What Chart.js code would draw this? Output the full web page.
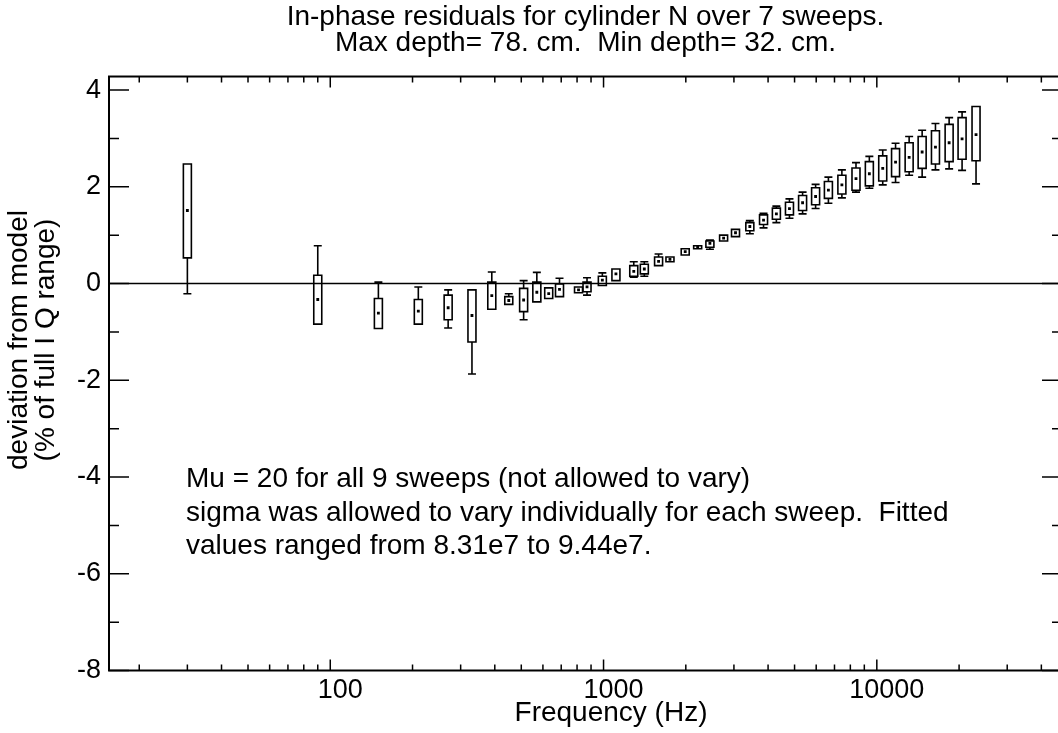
<!DOCTYPE html>
<html>
<head>
<meta charset="utf-8">
<title>In-phase residuals for cylinder N</title>
<script src="https://cdn.jsdelivr.net/npm/chart.js@4.4.1/dist/chart.umd.min.js"></script>
<style>
    html, body { margin: 0; padding: 0; background: #fff; overflow: hidden; }
    #wrap { position: relative; width: 1066px; height: 733px; }
</style>
</head>
<body>
<div id="wrap"><canvas id="residuals"></canvas></div>
<script>
// Sweep frequencies (Hz)
const freqs = [30, 90, 150, 210, 270, 330, 390, 450, 510, 570, 630, 690, 810, 870, 990,
    1110, 1290, 1410, 1590, 1750, 1990, 2210, 2450, 2750, 3040, 3430, 3850, 4290, 4790,
    5350, 5970, 6650, 7450, 8390, 9390, 10510, 11710, 13130, 14650, 16390, 18390, 20510, 23070];

// Residual statistics over the sweeps (% of full I Q range)
const whiskerLow = [-0.21, -0.84, -0.93, -0.84, -0.92, -1.87, -0.53, -0.43, -0.75, -0.38, -0.31, -0.27, -0.19, -0.24, -0.04,
    0.06, 0.13, 0.15, 0.37, 0.45, 0.59, 0.72, 0.71, 0.88, 0.97, 1.03, 1.15, 1.26, 1.35,
    1.44, 1.55, 1.66, 1.77, 1.89, 1.97, 2.04, 2.09, 2.24, 2.20, 2.35, 2.37, 2.34, 2.06];
const boxLow = [0.53, -0.84, -0.93, -0.84, -0.75, -1.21, -0.53, -0.43, -0.58, -0.38, -0.31, -0.27, -0.19, -0.17, -0.04,
    0.06, 0.15, 0.20, 0.37, 0.45, 0.59, 0.72, 0.75, 0.88, 0.97, 1.09, 1.22, 1.33, 1.42,
    1.51, 1.63, 1.76, 1.85, 1.93, 2.02, 2.12, 2.21, 2.31, 2.38, 2.47, 2.52, 2.57, 2.54];
const boxHigh = [2.47, 0.17, -0.31, -0.33, -0.24, -0.13, 0.03, -0.27, -0.10, 0.03, -0.09, -0.01, -0.07, 0.03, 0.15,
    0.30, 0.37, 0.40, 0.55, 0.55, 0.72, 0.78, 0.88, 1.00, 1.12, 1.26, 1.42, 1.56, 1.68,
    1.82, 1.98, 2.11, 2.24, 2.39, 2.52, 2.64, 2.79, 2.91, 3.04, 3.16, 3.29, 3.43, 3.66];
const whiskerHigh = [2.47, 0.78, 0.03, -0.07, -0.13, -0.13, 0.24, -0.21, 0.06, 0.23, -0.09, 0.11, -0.07, 0.12, 0.22,
    0.30, 0.45, 0.45, 0.61, 0.55, 0.72, 0.78, 0.90, 1.00, 1.12, 1.30, 1.45, 1.60, 1.75,
    1.89, 2.05, 2.20, 2.35, 2.50, 2.63, 2.76, 2.90, 3.04, 3.17, 3.31, 3.43, 3.55, 3.66];
const means = [1.51, -0.33, -0.61, -0.57, -0.50, -0.66, -0.25, -0.35, -0.34, -0.18, -0.21, -0.12, -0.13, -0.07, 0.07,
    0.20, 0.25, 0.30, 0.46, 0.50, 0.66, 0.75, 0.83, 0.94, 1.05, 1.18, 1.31, 1.44, 1.55,
    1.67, 1.80, 1.93, 2.04, 2.17, 2.27, 2.38, 2.51, 2.61, 2.72, 2.82, 2.91, 2.99, 3.08];

// Axis ranges and ticks
const xRange = [15.5, 47600];
const yRange = [-8, 4.28];
const xTicks = [20, 30, 40, 50, 60, 70, 80, 90, 100, 200, 300, 400, 500, 600, 700, 800, 900,
    1000, 2000, 3000, 4000, 5000, 6000, 7000, 8000, 9000, 10000, 20000, 30000, 40000];
const xLabelled = [100, 1000, 10000];
const yTicks = [-8, -7.5, -7, -6.5, -6, -5.5, -5, -4.5, -4, -3.5, -3, -2.5, -2, -1.5, -1, -0.5,
    0, 0.5, 1, 1.5, 2, 2.5, 3, 3.5, 4];
const yLabelled = [-8, -6, -4, -2, 0, 2, 4];

// Texts
const titleLines = ['In-phase residuals for cylinder N over 7 sweeps.', 'Max depth= 78. cm.  Min depth= 32. cm.'];
const xTitle = 'Frequency (Hz)';
const yTitleLines = ['deviation from model', '(% of full I Q range)'];
const noteLines = [
    'Mu = 20 for all 9 sweeps (not allowed to vary)',
    'sigma was allowed to vary individually for each sweep.  Fitted',
    'values ranged from 8.31e7 to 9.44e7.'
];

const FONT = "'Liberation Sans', Arial, Helvetica, sans-serif";
Chart.defaults.font.family = FONT;
Chart.defaults.color = '#000';

// Box and whisker marks, one per frequency
const boxPlot = {
    id: 'boxPlot',
    afterDatasetsDraw(chart) {
        const { ctx, scales: { x, y } } = chart;
        const half = 4;
        ctx.save();
        ctx.strokeStyle = '#000';
        ctx.lineWidth = 1.6;
        freqs.forEach((f, i) => {
            const px = x.getPixelForValue(f);
            const wl = y.getPixelForValue(whiskerLow[i]);
            const bl = y.getPixelForValue(boxLow[i]);
            const bh = y.getPixelForValue(boxHigh[i]);
            const wh = y.getPixelForValue(whiskerHigh[i]);
            ctx.beginPath();
            ctx.rect(px - half, bh, half * 2, bl - bh);
            ctx.moveTo(px, bh); ctx.lineTo(px, wh);
            ctx.moveTo(px - half, wh); ctx.lineTo(px + half, wh);
            ctx.moveTo(px, bl); ctx.lineTo(px, wl);
            ctx.moveTo(px - half, wl); ctx.lineTo(px + half, wl);
            ctx.stroke();
        });
        ctx.restore();
    }
};

// Plot frame with inward ticks on all four sides, plus axis titles and notes
const frame = {
    id: 'frame',
    afterDraw(chart) {
        const { ctx, chartArea: { left, right, top, bottom }, scales: { x, y } } = chart;
        ctx.save();
        ctx.strokeStyle = '#000';
        ctx.lineWidth = 2;
        ctx.strokeRect(left, top, right - left, bottom - top);
        ctx.lineWidth = 1.5;
        ctx.beginPath();
        x.ticks.forEach(t => {
            const px = x.getPixelForValue(t.value);
            const len = xLabelled.includes(t.value) ? 11 : 6;
            ctx.moveTo(px, bottom); ctx.lineTo(px, bottom - len);
            ctx.moveTo(px, top); ctx.lineTo(px, top + len);
        });
        y.ticks.forEach(t => {
            const py = y.getPixelForValue(t.value);
            const len = yLabelled.includes(t.value) ? 20 : 10;
            ctx.moveTo(left, py); ctx.lineTo(left + len, py);
            ctx.moveTo(right, py); ctx.lineTo(right - len, py);
        });
        ctx.stroke();

        ctx.fillStyle = '#000';
        ctx.textBaseline = 'alphabetic';

        // x axis title
        ctx.font = `28px ${FONT}`;
        ctx.textAlign = 'center';
        ctx.fillText(xTitle, 611, 720.5);

        // y axis title, two rotated lines
        yTitleLines.forEach((line, i) => {
            ctx.save();
            ctx.translate(27 + i * 26.5, 340);
            ctx.rotate(-Math.PI / 2);
            ctx.fillText(line, 0, 0);
            ctx.restore();
        });

        // fit notes
        ctx.textAlign = 'left';
        noteLines.forEach((line, i) => {
            ctx.fillText(line, 186, 487 + i * 33.5);
        });
        ctx.restore();
    }
};

new Chart(document.getElementById('residuals'), {
    type: 'scatter',
    data: {
        datasets: [
            {
                label: 'zero',
                data: [{ x: xRange[0], y: 0 }, { x: xRange[1], y: 0 }],
                showLine: true,
                borderColor: '#000',
                borderWidth: 1.6,
                pointRadius: 0
            },
            {
                label: 'mean',
                data: freqs.map((f, i) => ({ x: f, y: means[i] })),
                pointStyle: 'rect',
                pointRadius: 2,
                backgroundColor: '#000',
                borderWidth: 0
            }
        ]
    },
    options: {
        responsive: true,
        maintainAspectRatio: false,
        animation: false,
        layout: { padding: { left: 0, right: 2, top: 0, bottom: 0 } },
        plugins: {
            legend: { display: false },
            tooltip: { enabled: false },
            title: {
                display: true,
                text: titleLines,
                fullSize: false,
                color: '#000',
                font: { size: 28, weight: 'normal', lineHeight: 0.936 },
                padding: { top: 4, bottom: 20.1 }
            }
        },
        scales: {
            x: {
                type: 'logarithmic',
                min: xRange[0],
                max: xRange[1],
                grid: { display: false, drawTicks: false },
                border: { display: false },
                afterBuildTicks: scale => { scale.ticks = xTicks.map(v => ({ value: v })); },
                afterFit: scale => { scale.height = 62.5; },
                ticks: {
                    autoSkip: false,
                    maxRotation: 0,
                    padding: 3.6,
                    labelOffset: 10,
                    font: { size: 27 },
                    callback: v => xLabelled.includes(v) ? String(v) : ''
                }
            },
            y: {
                min: yRange[0],
                max: yRange[1],
                grid: { display: false, drawTicks: false },
                border: { display: false },
                afterBuildTicks: scale => { scale.ticks = yTicks.map(v => ({ value: v })); },
                afterFit: scale => { scale.width = 109; },
                ticks: {
                    padding: 8,
                    font: { size: 27 },
                    callback: v => yLabelled.includes(v) ? String(v) : ''
                }
            }
        }
    },
    plugins: [boxPlot, frame]
});
</script>
</body>
</html>
